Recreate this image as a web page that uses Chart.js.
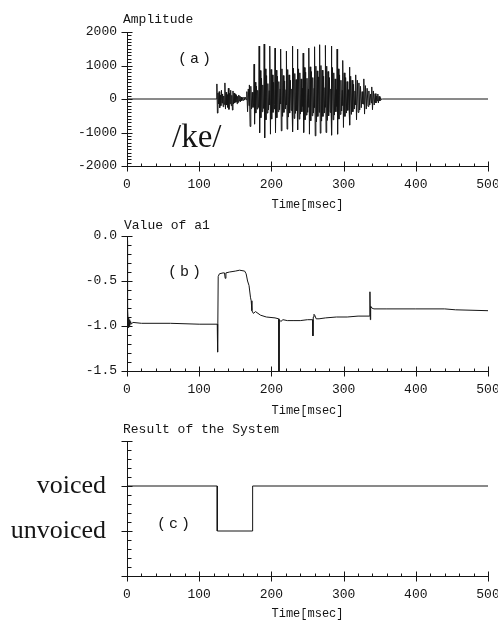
<!DOCTYPE html>
<html>
<head>
<meta charset="utf-8">
<script src="https://cdn.jsdelivr.net/npm/chart.js@4.4.0/dist/chart.umd.min.js"></script>
<style>
  body { margin: 0; background: #fff; }
  #wrap { position: relative; width: 498px; height: 621px; }
  canvas { position: absolute; left: 0; }
</style>
</head>
<body>
<div id="wrap">
  <canvas id="chartA" width="498" height="212" style="top:0px"></canvas>
  <canvas id="chartB" width="498" height="206" style="top:212px"></canvas>
  <canvas id="chartC" width="498" height="203" style="top:418px"></canvas>
</div>
<script>
// (a) speech waveform of /ke/ : [time ms, amplitude]
const waveform = [
  [0,0],[124,0],
  [124.5,450],[125.2,-420],[126,180],[126.8,-150],[127.6,220],[128.4,-260],[129.2,120],[130,-200],
  [130.8,260],[131.6,-120],[132.4,150],[133.2,-230],[134,90],[134.8,-160],[135.6,480],[136.4,-300],
  [137.2,200],[138,-180],[138.8,130],[139.6,-250],[140.4,320],[141.2,-310],[142,170],[142.8,-140],
  [143.6,260],[144.4,-200],[145.2,110],[146,-330],[146.8,240],[147.6,-150],[148.4,180],[149.2,-120],
  [150,140],[150.8,-90],[151.6,110],[152.4,-140],[153.2,80],[154,-100],[154.8,120],[155.6,-60],
  [156.4,90],[157.2,-80],[158,60],[159,-50],[160,40],[161,-40],[162,60],[163,-30],[164,50],[165,-20],
  [166,220],[167,-380],[168,300],[169,-200],[169.5,420],[170.5,-820],[171.5,380],[172.5,-300],[173.5,200],[174.5,-250],
  [175.4,-150],[176,1040],[176.7,-750],[177.5,500],[178.4,-420],[179.3,380],[180.2,-300],[181.1,260],[182,-250],
  [182.5,-120],[183,1580],[183.7,-1010],[184.5,850],[185.4,-560],[186.3,620],[187.2,-380],[188.1,420],[189,-280],
  [189.5,-150],[190,1640],[190.7,-1160],[191.5,900],[192.4,-620],[193.3,700],[194.2,-420],[195.1,460],[196,-330],[197,250],
  [197.5,-180],[198,1580],[198.7,-1050],[199.5,880],[200.4,-600],[201.3,720],[202.2,-400],[203.1,500],[204,-300],
  [204.5,-160],[205,1520],[205.7,-1000],[206.6,860],[207.5,-560],[208.4,680],[209.3,-380],[210.3,520],[211.3,-320],[212.2,300],
  [212.6,-150],[213,1490],[213.7,-950],[214.6,900],[215.5,-520],[216.4,700],[217.3,-400],[218.3,540],[219.3,-300],[220.3,280],
  [220.6,-180],[221,1430],[221.7,-900],[222.6,880],[223.5,-540],[224.4,720],[225.3,-420],[226.3,560],[227.3,-340],[228.3,300],
  [228.6,-200],[229,1580],[229.7,-980],[230.6,920],[231.5,-580],[232.4,760],[233.3,-430],[234.2,580],[235.2,-350],
  [235.7,-180],[236,1490],[236.7,-920],[237.6,900],[238.5,-600],[239.4,780],[240.3,-450],[241.2,600],[242.2,-380],[243.2,320],
  [243.6,-220],[244,1370],[244.7,-1000],[245.6,940],[246.5,-620],[247.4,800],[248.4,-480],[249.3,620],[250.3,-400],[251.3,300],
  [251.6,-250],[252,1520],[252.7,-1050],[253.6,960],[254.5,-650],[255.4,820],[256.4,-500],[257.3,640],[258.3,-420],[259.3,320],
  [259.6,-260],[260,1560],[260.7,-1100],[261.6,980],[262.5,-680],[263.4,840],[264.3,-520],[265.2,660],[266.2,-400],
  [266.6,-260],[267,1620],[267.7,-1020],[268.6,1000],[269.5,-660],[270.4,860],[271.3,-520],[272.3,680],[273.3,-420],[274.3,340],
  [274.6,-250],[275,1600],[275.7,-1000],[276.6,980],[277.5,-640],[278.4,820],[279.3,-500],[280.3,640],[281.3,-400],[282.3,300],
  [282.6,-240],[283,1580],[283.7,-1080],[284.6,940],[285.5,-620],[286.4,780],[287.3,-480],[288.3,600],[289.3,-380],[290.3,280],
  [290.6,-220],[291,1490],[291.7,-1050],[292.6,900],[293.5,-600],[294.4,720],[295.3,-460],[296.3,560],[297.3,-360],[298.3,260],
  [298.6,-200],[299,1150],[299.8,-850],[300.8,780],[301.8,-520],[302.8,640],[303.8,-420],[304.8,520],[305.8,-340],[306.8,280],
  [307.5,-200],[308,950],[308.8,-780],[309.8,680],[310.8,-460],[311.8,560],[312.8,-380],[313.8,440],[314.8,-300],[315.8,240],
  [316.5,-180],[317,720],[317.9,-620],[319,560],[320.1,-400],[321.2,480],[322.3,-330],[323.4,380],[324.5,-260],[325.7,220],[326.8,-150],
  [327.5,-150],[328,600],[329,-450],[330.2,400],[331.4,-300],[332.6,320],[333.8,-220],[335,240],[336.2,-180],[337.4,150],
  [338.4,-120],[339,360],[340,-320],[341.2,240],[342.4,-180],[343.6,160],[344.8,-120],[346,90],
  [346.8,-60],[347.4,150],[348.2,-120],[349.2,80],[350.2,-60],[351.2,40],[352.4,-20],[354,0],[500,0]
];

// (b) value of a1 : [time ms, a1]
const a1Curve = [
  [0,-0.05],[0.4,-0.35],[0.8,-0.6],[1.2,-0.8],[1.6,-0.95],[2,-1.02],[2.5,-0.9],[3,-1.0],[3.5,-0.93],
  [4,-0.99],[5,-0.95],[6,-0.98],[8,-0.96],[20,-0.97],[60,-0.97],[100,-0.98],[125,-0.98],
  [125.5,-1.29],[126.3,-0.45],[128,-0.42],[133,-0.41],[135,-0.41],[136,-0.47],[137,-0.41],[142,-0.40],
  [150,-0.39],[156,-0.38],[163,-0.39],[165,-0.42],[167,-0.5],[169,-0.55],[171,-0.68],[172,-0.72],
  [173,-0.83],[175,-0.86],[178,-0.84],[185,-0.88],[193,-0.90],[205,-0.91],[210,-0.92],[210.5,-1.5],
  [211,-0.93],[213,-0.95],[216,-0.93],[222,-0.94],[230,-0.94],[240,-0.94],[250,-0.93],[257,-0.93],
  [257.5,-1.11],[258,-0.9],[259,-0.87],[260,-0.88],[262,-0.92],[266,-0.92],[275,-0.91],[290,-0.90],
  [305,-0.90],[320,-0.89],[336,-0.89],[336.5,-0.62],[337,-0.93],[337.5,-0.78],[339,-0.80],[342,-0.81],
  [360,-0.81],[400,-0.81],[440,-0.81],[455,-0.82],[500,-0.83]
];

// (c) result of the system : [time ms, state]
const decision = [[0,1],[0,2],[125,2],[125,1],[174,1],[174,2],[500,2]];
const stateNames = ['', 'unvoiced', 'voiced', ''];

const INK = '#151515';
const mono = { family: '"Liberation Mono", "DejaVu Sans Mono", monospace', size: 13 };
const MONO = '13px "Liberation Mono", monospace';

const tickMarks = {
  id: 'tickMarks',
  afterDraw(chart, args, o) {
    const { ctx, chartArea: ca, scales: { x, y } } = chart;
    ctx.save();
    ctx.strokeStyle = INK;
    ctx.lineWidth = 1;
    ctx.beginPath();
    const ax = Math.round(ca.left) + 0.5;
    const ay = Math.round(ca.bottom) + 0.5;
    ctx.moveTo(ax, Math.round(ca.top));
    ctx.lineTo(ax, ay);
    ctx.lineTo(Math.round(ca.right) + 0.5, ay);
    const nx = Math.round((x.max - x.min) / o.xMinor);
    for (let i = 0; i <= nx; i++) {
      const v = x.min + i * o.xMinor;
      const px = Math.round(x.getPixelForValue(v)) + 0.5;
      const major = Math.abs(v / o.xMajor - Math.round(v / o.xMajor)) < 1e-6;
      ctx.moveTo(px, ay - (major ? 5 : 3));
      ctx.lineTo(px, ay + (major ? 5 : 0));
    }
    const ny = Math.round((y.max - y.min) / o.yMinor);
    for (let i = 0; i <= ny; i++) {
      const v = y.min + i * o.yMinor;
      const py = Math.round(y.getPixelForValue(v)) + 0.5;
      const major = Math.abs(v / o.yMajor - Math.round(v / o.yMajor)) < 1e-6;
      ctx.moveTo(ax - (major ? 6 : 0), py);
      ctx.lineTo(ax + (major ? 5 : 4), py);
    }
    ctx.stroke();
    ctx.fillStyle = INK;
    ctx.textBaseline = 'alphabetic';
    for (const n of o.notes) {
      ctx.font = n.font;
      ctx.textAlign = 'left';
      if ('letterSpacing' in ctx) ctx.letterSpacing = n.spacing || '0px';
      ctx.fillText(n.text, n.x, n.y);
    }
    ctx.restore();
  }
};

function makePanel(id, cfg) {
  const ctx = document.getElementById(id).getContext('2d');
  return new Chart(ctx, {
    type: 'line',
    data: {
      datasets: [{
        data: cfg.points.map(p => ({ x: p[0], y: p[1] })),
        borderColor: INK,
        borderWidth: 1,
        pointRadius: 0,
        tension: 0,
        fill: false
      }]
    },
    options: {
      responsive: false,
      animation: false,
      devicePixelRatio: 1,
      layout: { padding: { top: cfg.top, right: 10, left: 0, bottom: 0 } },
      plugins: {
        legend: { display: false },
        tooltip: { enabled: false },
        tickMarks: cfg.marks
      },
      scales: {
        x: {
          type: 'linear', min: 0, max: 500,
          grid: { display: false, drawTicks: false },
          border: { display: false },
          ticks: { stepSize: 100, padding: 11, maxRotation: 0, color: INK, font: mono },
          title: { display: true, text: 'Time[msec]', color: INK, font: { family: mono.family, size: 12 }, padding: { top: 0, bottom: 0 } },
          afterFit(s) { s.height = cfg.xHeight; s.paddingLeft = 0; s.paddingRight = 0; }
        },
        y: {
          type: 'linear', min: cfg.yMin, max: cfg.yMax,
          grid: { display: false, drawTicks: false },
          border: { display: false },
          ticks: { stepSize: cfg.yStep, padding: cfg.yPad, color: INK, font: cfg.yFont || mono, callback: cfg.yLabel },
          afterFit(s) { s.width = 127; s.paddingTop = 0; s.paddingBottom = 0; }
        }
      }
    },
    plugins: [tickMarks]
  });
}

makePanel('chartA', {
  points: waveform, top: 32, xHeight: 46,
  yMin: -2000, yMax: 2000, yStep: 1000, yPad: 10,
  yLabel: v => String(v),
  marks: {
    xMinor: 20, xMajor: 100, yMinor: 100, yMajor: 1000,
    notes: [
      { text: 'Amplitude', x: 123, y: 23, font: MONO },
      { text: '(a)', x: 178, y: 63, font: '15px "Liberation Mono", monospace', spacing: '3px' },
      { text: '/ke/', x: 172, y: 147, font: '33px "Liberation Serif", serif' }
    ]
  }
});

makePanel('chartB', {
  points: a1Curve, top: 24, xHeight: 47,
  yMin: -1.5, yMax: 0, yStep: 0.5, yPad: 10,
  yLabel: v => v.toFixed(1),
  marks: {
    xMinor: 20, xMajor: 100, yMinor: 0.1, yMajor: 0.5,
    notes: [
      { text: 'Value of a1', x: 124, y: 17, font: MONO },
      { text: '(b)', x: 168, y: 64, font: '15px "Liberation Mono", monospace', spacing: '3px' }
    ]
  }
});

makePanel('chartC', {
  points: decision, top: 23, xHeight: 45,
  yMin: 0, yMax: 3, yStep: 1, yPad: 21,
  yFont: { family: '"Liberation Serif", serif', size: 26 },
  yLabel: v => stateNames[Math.round(v)] || '',
  marks: {
    xMinor: 20, xMajor: 100, yMinor: 0.2, yMajor: 1,
    notes: [
      { text: 'Result of the System', x: 123, y: 15, font: MONO },
      { text: '(c)', x: 157, y: 110, font: '15px "Liberation Mono", monospace', spacing: '3px' }
    ]
  }
});
</script>
</body>
</html>
